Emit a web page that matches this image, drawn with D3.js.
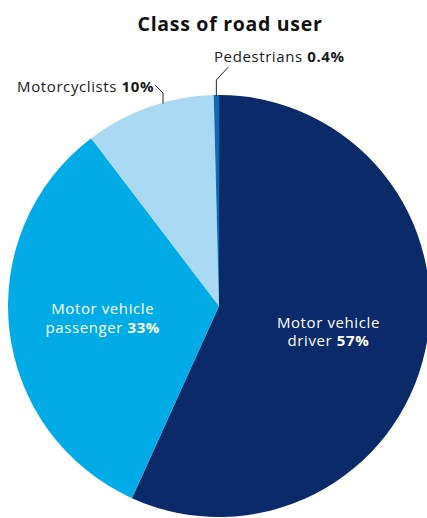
<!DOCTYPE html>
<html><head><meta charset="utf-8">
<script src="https://cdn.jsdelivr.net/npm/d3@7"></script>
<style>
html,body{margin:0;padding:0;background:#fff;}
svg{display:block;}
text{font-family:"Open Sans","Noto Sans",sans-serif;}
</style></head>
<body>
<svg id="chart" width="427" height="518"></svg>
<script>
const title = "Class of road user";
const categories = ["Motor vehicle driver", "Motor vehicle passenger", "Motorcyclists", "Pedestrians"];
const values = [57, 33, 10, 0.4];
const valueLabels = ["57%", "33%", "10%", "0.4%"];
const colors = ["#0b2a6a", "#00abe6", "#a9d9f3", "#0a6cb8"];

const svg = d3.select("#chart");
const cx = 219, cy = 306, R = 211;
const FS = 15, LS = 0.6;

svg.append("text").attr("x", 230).attr("y", 31).attr("text-anchor", "middle")
  .attr("font-size", 19.5).attr("font-weight", 700).attr("letter-spacing", 0.7)
  .attr("fill", "#111").text(title);

const data = categories.map((c, i) => ({cat: c, value: values[i], label: valueLabels[i], color: colors[i]}));
const pie = d3.pie().value(d => d.value).sort(null);
const arcs = pie(data);
const arc = d3.arc().innerRadius(0).outerRadius(R);
const g = svg.append("g").attr("transform", `translate(${cx},${cy})`);
g.selectAll("path").data(arcs).join("path")
  .attr("d", arc).attr("fill", d => d.data.color);

function mixedLine(parent, x, y, anchor, normal, bold, fill) {
  const a = parent.append("text").attr("font-size", FS).attr("letter-spacing", LS).attr("fill", fill).text(normal);
  const b = parent.append("text").attr("font-size", FS).attr("letter-spacing", LS).attr("font-weight", 700).attr("fill", fill).text(bold);
  const wa = a.node().getComputedTextLength(), wb = b.node().getComputedTextLength();
  const gap = 4.5, total = wa + gap + wb;
  let x0 = anchor === "middle" ? x - total / 2 : anchor === "end" ? x - total : x;
  a.attr("x", x0).attr("y", y);
  b.attr("x", x0 + wa + gap).attr("y", y);
}

// inside labels
const labelArc = d3.arc().innerRadius(114).outerRadius(114);
const inside = [
  {i: 0, lines: ["Motor vehicle", "driver"], dx: -2, dy: 2},
  {i: 1, lines: ["Motor vehicle", "passenger"], dx: -3, dy: 0}
];
inside.forEach(o => {
  const [x, y] = labelArc.centroid(arcs[o.i]);
  g.append("text").attr("text-anchor", "middle").attr("fill", "#fff")
    .attr("font-size", FS).attr("letter-spacing", LS)
    .attr("x", x + o.dx).attr("y", y + o.dy - 4.5).text(o.lines[0]);
  mixedLine(g, x + o.dx, y + o.dy + 14, "middle", o.lines[1], arcs[o.i].data.label, "#fff");
});

// outside labels with leader lines
function outsideLabel(i, textX, textY, anchor, pathPts) {
  mixedLine(svg, textX, textY, anchor, categories[i], valueLabels[i], "#1a1a1a");
  svg.append("path").attr("d", d3.line()(pathPts)).attr("fill", "none")
    .attr("stroke", "#222").attr("stroke-width", 1);
}
function edgePoint(angle) { return [cx + R * Math.sin(angle), cy - R * Math.cos(angle)]; }
const pedMid = (arcs[3].startAngle + arcs[3].endAngle) / 2;
const pe = edgePoint(pedMid);
outsideLabel(3, 214, 62, "start", [[pe[0], pe[1] + 1], [pe[0], 80], [pe[0] + 12, 67]]);
const motoAngle = Math.asin((163 - cx) / R) + 2 * Math.PI;
const me = edgePoint(motoAngle);
outsideLabel(2, 154, 92, "end", [[me[0], me[1] + 1], [me[0], 93], [me[0] - 8, 85]]);
</script>
</body></html>
